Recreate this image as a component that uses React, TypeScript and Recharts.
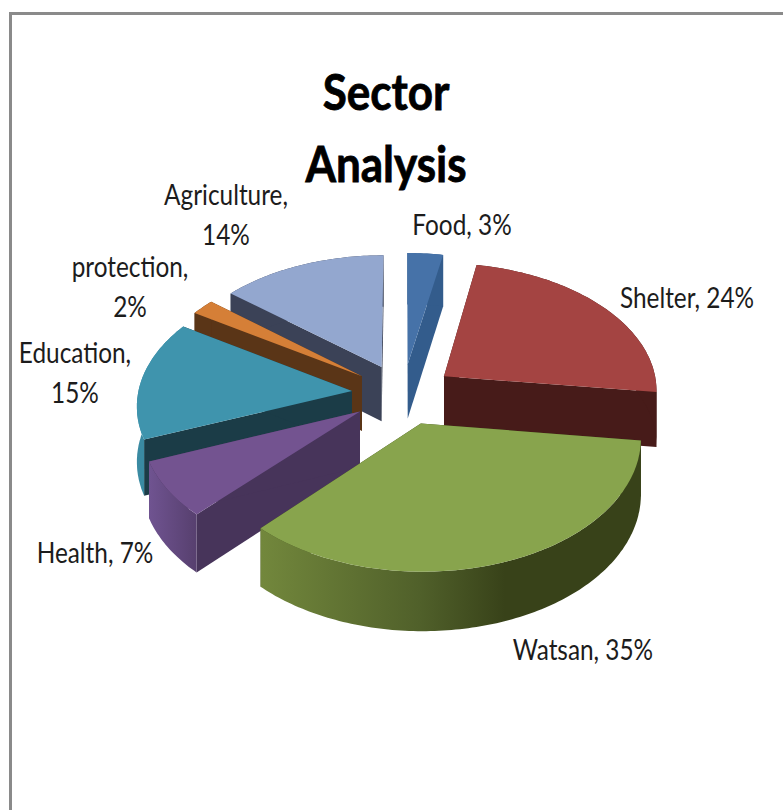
import React from "react";
import { PieChart, Pie } from "recharts";

// Share of activity per sector, in percent
const sectors = ["Food", "Shelter", "Watsan", "Health", "Education", "protection", "Agriculture"];
const shares = [3, 24, 35, 7, 15, 2, 14];

// Colours of the top face and of the cut walls
const topColors = ["#4672a8", "#a44442", "#88a44d", "#735390", "#3f94ad", "#d57f37", "#93a7cf"];
const wallColors = ["#335c8c", "#471b19", "#384219", "#47345a", "#1b3c47", "#5a3517", "#3b4257"];
const rimColors = ["#335c8c", "#471b19", "url(#watsanRim)", "url(#healthRim)", "#3a8aa2", "#5a3517", "#3b4257"];

// Painter's order: the slices further back are drawn first
const paintOrder = ["Agriculture", "Food", "protection", "Education", "Shelter", "Health", "Watsan"];

const rows = sectors.map((name, i) => ({
  name,
  value: shares[i],
  top: topColors[i],
  wall: wallColors[i],
  rim: rimColors[i],
}));

// Label placement: centre x, first baseline, and whether the percentage wraps
const labelPlacement: Record<string, [number, number, boolean]> = {
  Food: [462, 235, false],
  Shelter: [687, 308, false],
  Watsan: [583, 660, false],
  Health: [95, 563, false],
  Education: [75, 363, true],
  protection: [130, 277, true],
  Agriculture: [226, 205, true],
};

const CENTER_X = 403;
const CENTER_Y = 394;
const RADIUS = 214;
const TILT = 0.596;
const PERSPECTIVE = 0.098;
const EXPLODE = 0.24;
const DEPTH = 55;
const RAD = Math.PI / 180;

const FONT = "Lato, 'Noto Sans', sans-serif";

type Pt = [number, number];

// Projects a point of the unit disc (v grows towards the viewer) onto the page;
// the extruded depth grows slightly for points nearer the viewer
function project(cx: number, cy: number, r: number, u: number, v: number, drop = 0): Pt {
  const s = 1 / (1 - PERSPECTIVE * v);
  return [cx + u * r * s, cy + v * r * TILT * s + drop * (1 + 0.6 * (s - 1))];
}

const toPath = (pts: Pt[]) =>
  "M" + pts.map((p) => `${p[0].toFixed(1)},${p[1].toFixed(1)}`).join("L") + "Z";

function Slice(props: any) {
  const { cx, cy, outerRadius, startAngle, endAngle, payload } = props;
  // Clockwise angles measured from twelve o'clock
  const a0 = 90 - startAngle;
  const a1 = 90 - endAngle;
  const mid = ((a0 + a1) / 2) * RAD;
  const ox = EXPLODE * Math.sin(mid);
  const oy = -EXPLODE * Math.cos(mid);

  const rim: [number, number][] = [];
  const steps = Math.max(4, Math.ceil(a1 - a0));
  for (let i = 0; i <= steps; i++) {
    const a = (a0 + ((a1 - a0) * i) / steps) * RAD;
    rim.push([ox + Math.sin(a), oy - Math.cos(a)]);
  }
  const at = (p: [number, number], drop = 0) => project(cx, cy, outerRadius, p[0], p[1], drop);
  const tipUnit: [number, number] = [ox, oy];
  const first = rim[0];
  const last = rim[rim.length - 1];

  const topFace = toPath([at(tipUnit), ...rim.map((p) => at(p))]);
  const rimWall = toPath([...rim.map((p) => at(p)), ...rim.slice().reverse().map((p) => at(p, DEPTH))]);
  const wallA = toPath([at(tipUnit), at(first), at(first, DEPTH), at(tipUnit, DEPTH)]);
  const wallB = toPath([at(tipUnit), at(last), at(last, DEPTH), at(tipUnit, DEPTH)]);

  return (
    <g>
      <path d={wallA} fill={payload.wall} />
      <path d={wallB} fill={payload.wall} />
      <path d={rimWall} fill={payload.rim} />
      <path d={topFace} fill={payload.top} />
    </g>
  );
}

function SectorLabel(props: any) {
  const [x, y, wrap] = labelPlacement[props.name];
  const lines = wrap ? [`${props.name},`, `${props.value}%`] : [`${props.name}, ${props.value}%`];
  return (
    <g>
      {lines.map((line, i) => (
        <text
          key={line}
          transform={`translate(${x},${y + i * 40}) scale(0.87,1)`}
          textAnchor="middle"
          fontFamily={FONT}
          fontSize={28}
          fill="#1c1c1c"
        >
          {line}
        </text>
      ))}
    </g>
  );
}

const renderNothing = () => <g />;

export default function App() {
  return (
    <div style={{ position: "absolute", left: 0, top: 0, width: 783, height: 810, overflow: "hidden", background: "#fff" }}>
      <div
        style={{
          position: "absolute",
          left: 9,
          top: 12,
          width: 780,
          height: 810,
          borderTop: "3px solid #8a8a8a",
          borderLeft: "3px solid #8a8a8a",
          boxSizing: "border-box",
        }}
      />
      <div style={{ position: "absolute", left: 0, top: 0 }}>
        <PieChart width={783} height={810} margin={{ top: 0, right: 0, bottom: 0, left: 0 }}>
          <defs>
            <linearGradient id="watsanRim" gradientUnits="userSpaceOnUse" x1="262" y1="0" x2="505" y2="0">
              <stop offset="0" stopColor="#72873c" />
              <stop offset="0.65" stopColor="#50602a" />
              <stop offset="1" stopColor="#384219" />
            </linearGradient>
            <linearGradient id="healthRim" gradientUnits="userSpaceOnUse" x1="150" y1="0" x2="200" y2="0">
              <stop offset="0" stopColor="#6f5390" />
              <stop offset="1" stopColor="#553e6c" />
            </linearGradient>
          </defs>
          {paintOrder.map((layer) => (
            <Pie
              key={layer}
              data={rows}
              dataKey="value"
              nameKey="name"
              cx={CENTER_X}
              cy={CENTER_Y}
              outerRadius={RADIUS}
              startAngle={90}
              endAngle={-270}
              stroke="none"
              isAnimationActive={false}
              shape={(p: any) => (p.name === layer ? <Slice {...p} /> : <g />)}
            />
          ))}
          <Pie
            data={rows}
            dataKey="value"
            nameKey="name"
            cx={CENTER_X}
            cy={CENTER_Y}
            outerRadius={RADIUS}
            startAngle={90}
            endAngle={-270}
            stroke="none"
            isAnimationActive={false}
            shape={renderNothing}
            labelLine={false}
            label={(p: any) => <SectorLabel {...p} />}
          />
          <text transform="translate(386,110) scale(0.88,1)" textAnchor="middle" fontFamily={FONT} fontWeight={700} fontSize={50} fill="#000" stroke="#000" strokeWidth={0.8}>
            Sector
          </text>
          <text transform="translate(386,182) scale(0.88,1)" textAnchor="middle" fontFamily={FONT} fontWeight={700} fontSize={50} fill="#000" stroke="#000" strokeWidth={0.8}>
            Analysis
          </text>
        </PieChart>
      </div>
    </div>
  );
}
